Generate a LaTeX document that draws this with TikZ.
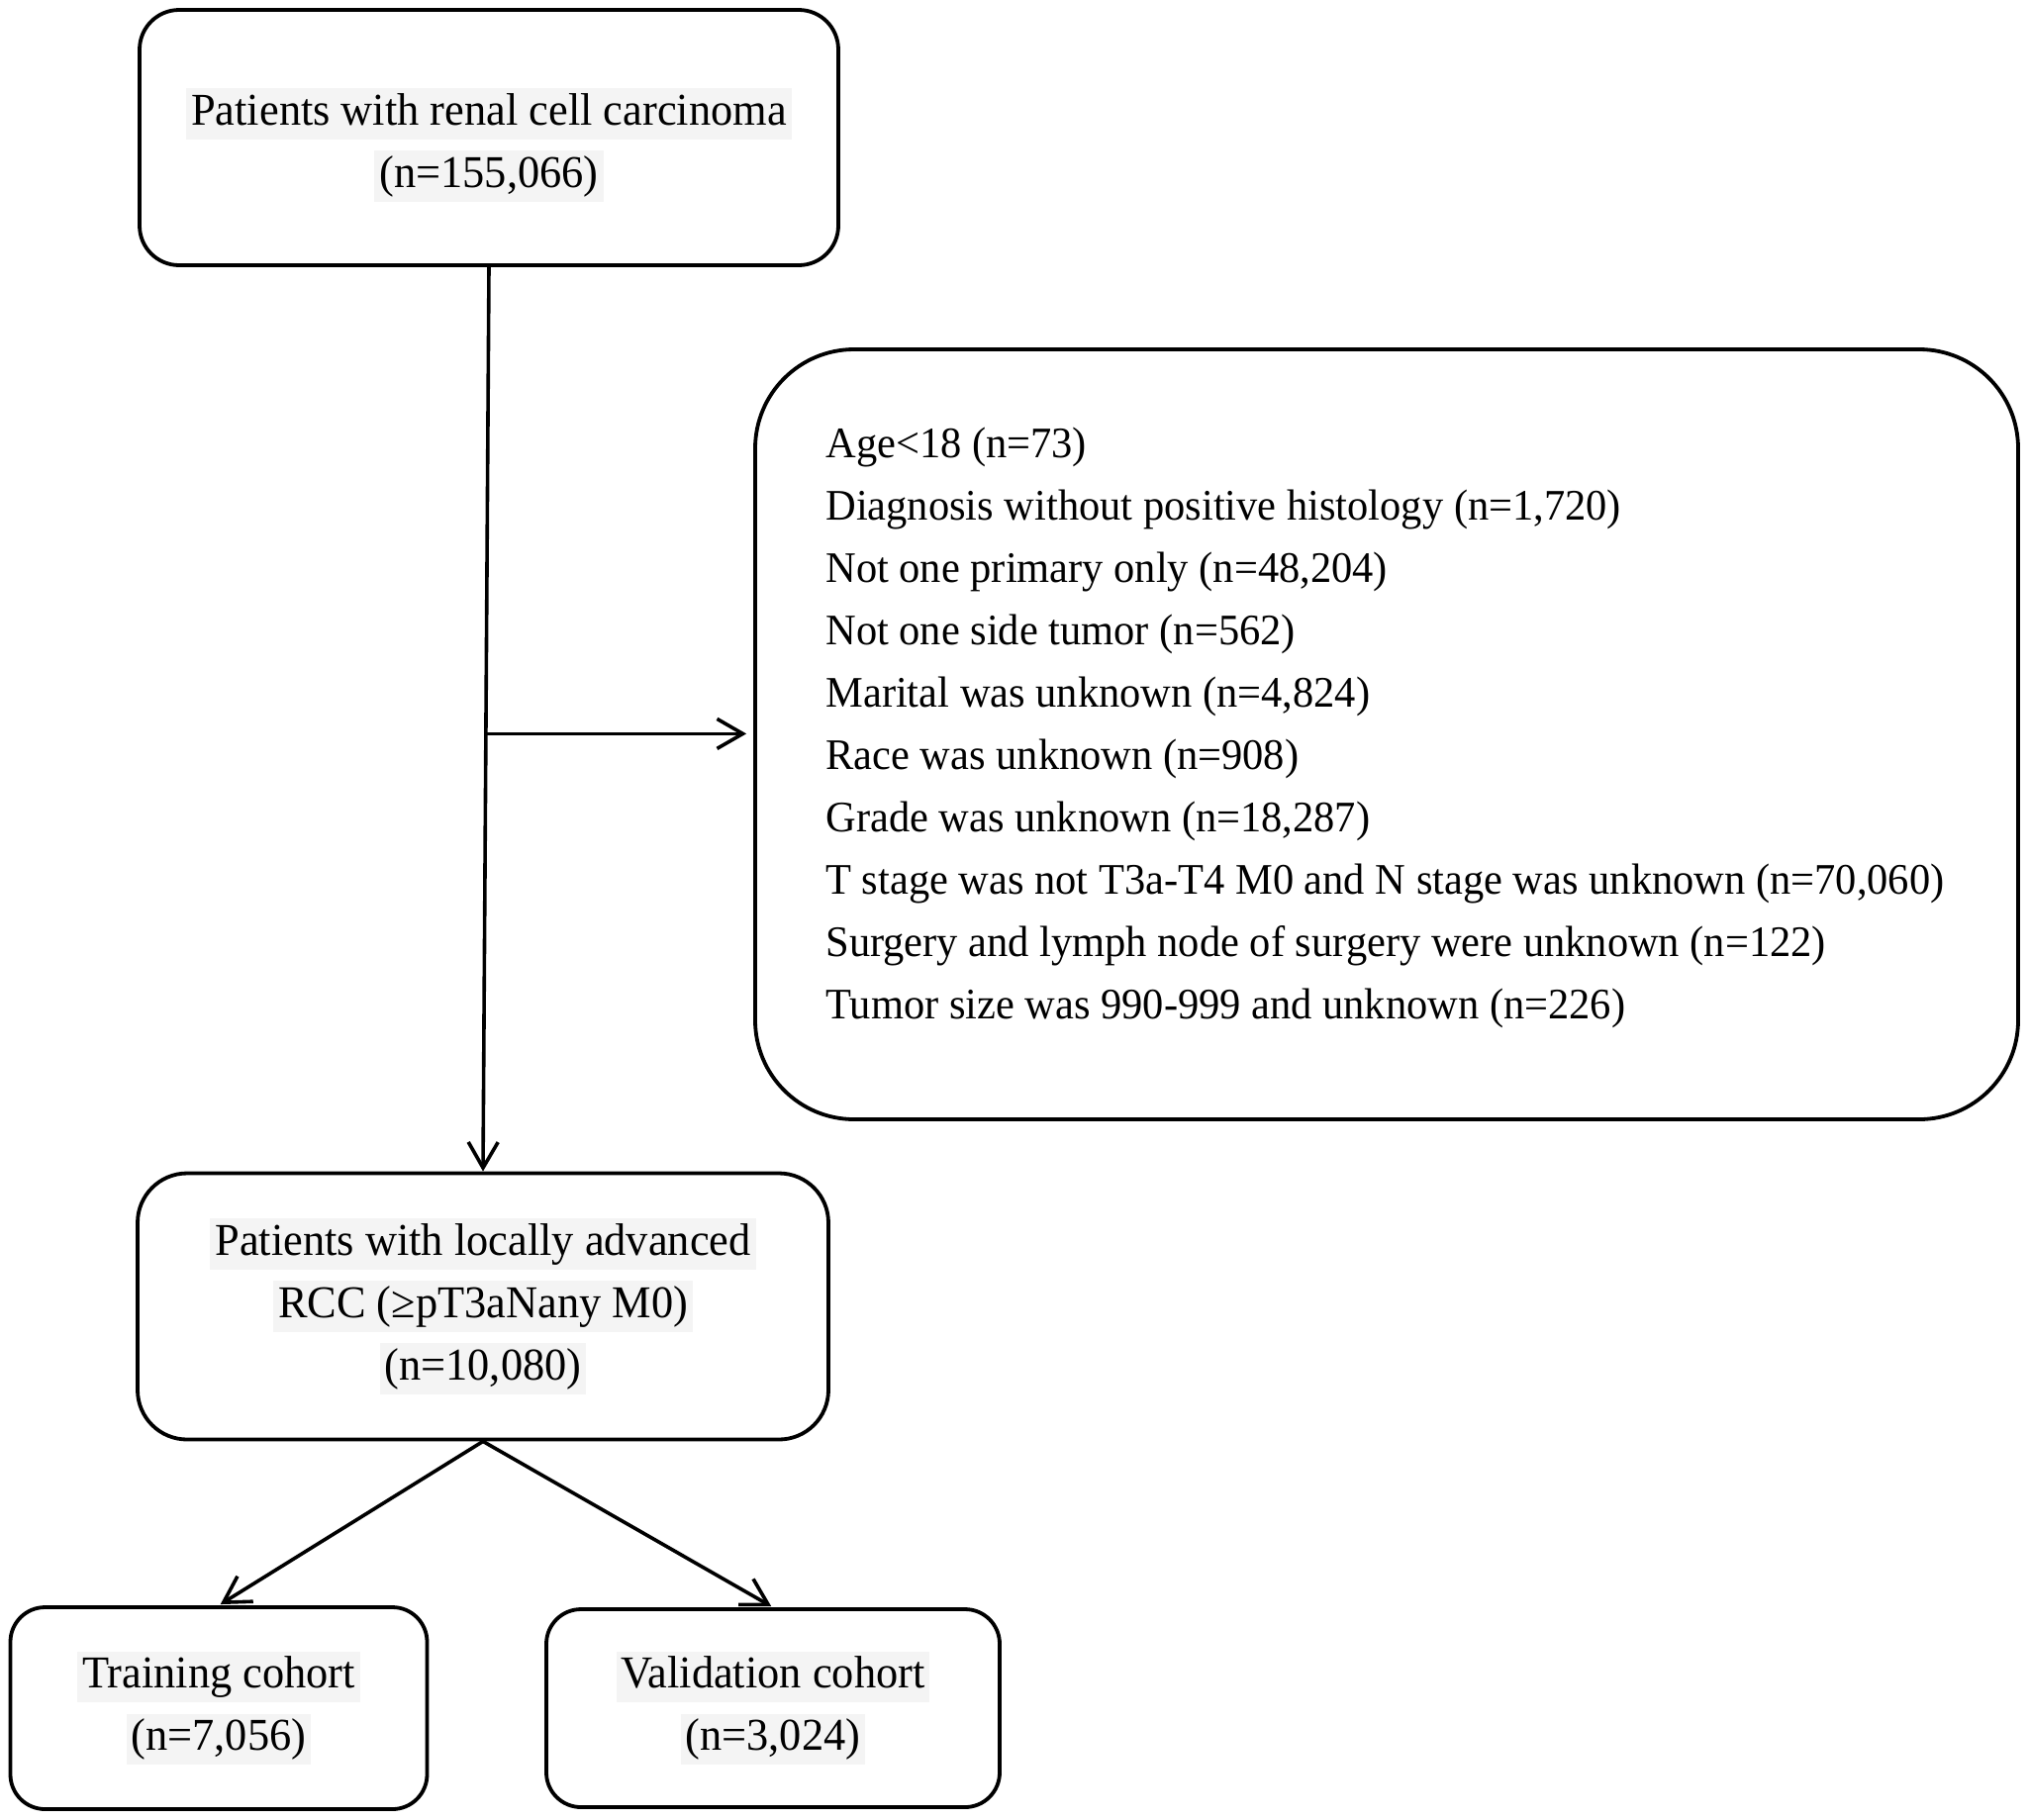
\documentclass[tikz,border=0pt]{standalone}
\usepackage{fontspec}
\setmainfont[FakeStretch=0.965]{Liberation Serif}
\usetikzlibrary{arrows.meta,calc}
\definecolor{hlgray}{gray}{0.955}
\newcommand{\hlx}[1]{{\setlength{\fboxsep}{2.5pt}\colorbox{hlgray}{\vphantom{(y}#1}}}
\begin{document}
\begin{tikzpicture}[x=0.5pt,y=-0.5pt,
  box/.style={draw, line width=1.9pt, rounded corners=#1, inner sep=0pt, align=center,
    font=\fontsize{23pt}{31.5pt}\selectfont},
  box/.default=20pt,
  txt/.style={inner sep=0pt, font=\fontsize{22pt}{31.5pt}\selectfont},
  arr/.style={line width=1.8pt, -{Straight Barb[length=13pt,width=15pt,line width=1.8pt]}},
  ln/.style={line width=1.8pt}]
\useasboundingbox (0,0) rectangle (2050,1838);
\node[box=20pt, minimum width=353pt, minimum height=129pt] (top) at (494,139)
  {\rule{0pt}{26pt}\hlx{Patients with renal cell carcinoma}\\\hlx{(n=155,066)}};
\node[box=50pt, minimum width=638pt, minimum height=389pt] (ex) at (1401,742) {};
\node[txt, anchor=west, align=left] (extxt) at (834,735)
  {Age<18 (n=73)\\
   Diagnosis without positive histology (n=1,720)\\
   Not one primary only (n=48,204)\\
   Not one side tumor (n=562)\\
   Marital was unknown (n=4,824)\\
   Race was unknown (n=908)\\
   Grade was unknown (n=18,287)\\
   T stage was not T3a-T4 M0 and N stage was unknown (n=70,060)\\
   Surgery and lymph node of surgery were unknown (n=122)\\
   Tumor size was 990-999 and unknown (n=226)};
\node[box=25pt, minimum width=349pt, minimum height=134.5pt] (mid) at (488,1320)
  {\hlx{Patients with locally advanced}\\\hlx{RCC (≥pT3aNany M0)}\\\hlx{(n=10,080)}};
\node[box=17.5pt, minimum width=210.5pt, minimum height=102pt] (train) at (221,1726)
  {\hlx{Training cohort}\\\hlx{(n=7,056)}};
\node[box=17.5pt, minimum width=229pt, minimum height=100pt] (valid) at (781,1726)
  {\hlx{Validation cohort}\\\hlx{(n=3,024)}};
\draw[arr] (top.south) -- (mid.north);
\coordinate (br) at ($(top.south)!0.516!(mid.north)$);
\draw[arr, shorten >=3.5pt] (br) -- (br -| ex.west);
\draw[arr, shorten >=1pt] (mid.south) -- (train.north);
\draw[arr, shorten >=1pt] (mid.south) -- (valid.north);
\end{tikzpicture}
\end{document}
